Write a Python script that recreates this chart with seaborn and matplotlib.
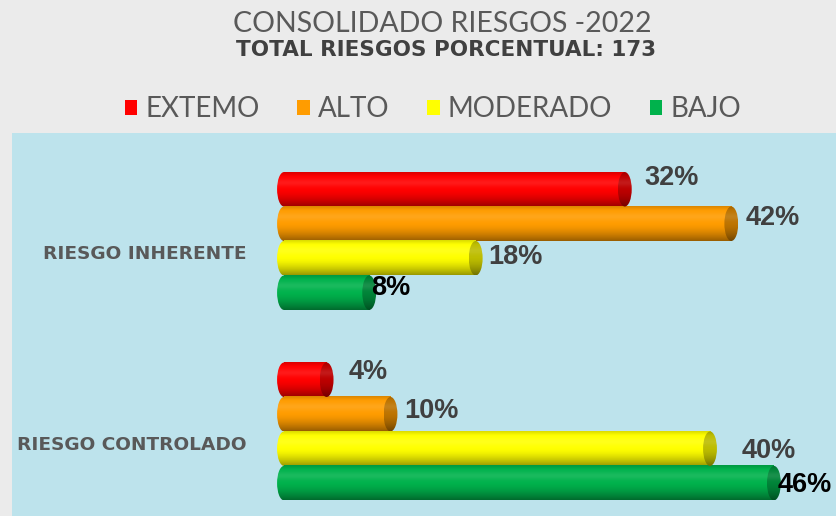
import numpy as np
import pandas as pd
import matplotlib
matplotlib.use("Agg")
import matplotlib.pyplot as plt
import seaborn as sns
from matplotlib.patches import Ellipse, Patch
from matplotlib.colors import to_rgb

# Risk levels per evaluation stage (percent of the 173 risks)
groups = ["RIESGO INHERENTE", "RIESGO CONTROLADO"]
levels = ["EXTEMO", "ALTO", "MODERADO", "BAJO"]
inherente = [32, 42, 18, 8]
controlado = [4, 10, 40, 46]
total_riesgos = 173

level_colors = ["#ff0000", "#ff9c00", "#ffff00", "#00b24c"]
label_colors = ["#404040", "#404040", "#404040", "#000000"]

# label nudges in pixels (right, down) from the end of each bar
label_dx = [[20, 14, 13, 2], [22, 14, 32, 4]]
label_dy = [[-11, -6, -1, -5], [-8, -3, 2, 2]]

df = pd.DataFrame({
    "grupo": [g for g in groups for _ in levels],
    "nivel": levels * len(groups),
    "valor": inherente + controlado,
})

W, H = 836, 516
fig = plt.figure(figsize=(W / 100, H / 100), dpi=100)
fig.patch.set_facecolor("#ebebeb")

ax = fig.add_axes([12 / W, 0, (W - 12) / W, (H - 133) / H])
ax.set_facecolor("#bde3ec")

sns.barplot(data=df, y="grupo", x="valor", hue="nivel", order=groups,
            hue_order=levels, palette=level_colors, orient="h", width=0.724,
            saturation=1, legend=False, ax=ax)


def cylinder_strip(color, dark=1.0, n=80):
    base = np.array(to_rgb(color)) * dark
    t = np.linspace(0, 1, n)
    f = np.where(t < 0.12, 0.86 + 0.14 * t / 0.12, 1.0)
    f = np.where(t > 0.5, 1.0 - 0.40 * ((t - 0.5) / 0.5) ** 1.5, f)
    hl = 0.10 * np.exp(-((t - 0.3) / 0.12) ** 2)
    rgb = base[None, :] * f[:, None]
    rgb = rgb + (1 - rgb) * hl[:, None]
    return np.clip(rgb, 0, 1)[:, None, :]


cap_w = 1.3
for li, (container, color) in enumerate(zip(ax.containers, level_colors)):
    body = cylinder_strip(color)
    end = cylinder_strip(color, dark=0.74)
    for gi, bar in enumerate(container):
        x, y = bar.get_x(), bar.get_y()
        w, h = bar.get_width(), bar.get_height()
        bar.set_facecolor("none")
        bar.set_edgecolor("none")
        ax.imshow(body, extent=(x, x + w, y + h, y), origin="upper",
                  aspect="auto", interpolation="bilinear", zorder=2)
        left = Ellipse((x, y + h / 2), cap_w, h, facecolor="none",
                       edgecolor="none")
        ax.add_patch(left)
        im = ax.imshow(body, extent=(x - cap_w / 2, x + 0.01, y + h, y),
                       origin="upper", aspect="auto",
                       interpolation="bilinear", zorder=1.9)
        im.set_clip_path(left)
        right = Ellipse((x + w, y + h / 2), cap_w, h, facecolor="none",
                        edgecolor="none")
        ax.add_patch(right)
        im = ax.imshow(end, extent=(x + w - cap_w / 2, x + w + cap_w / 2,
                                    y + h, y),
                       origin="upper", aspect="auto",
                       interpolation="bilinear", zorder=2.1)
        im.set_clip_path(right)
        ax.annotate(f"{w:.0f}%", xy=(x + w, y + h / 2),
                    xytext=(label_dx[gi][li] * 0.72, -label_dy[gi][li] * 0.72),
                    textcoords="offset points", ha="left", va="center",
                    fontsize=19.5, fontweight="bold", color=label_colors[li],
                    family="Liberation Sans", zorder=3)

for i, g in enumerate(groups):
    ax.text(-3.5, i + 0.07, g, ha="right", va="center", fontsize=13.3,
            fontweight="bold", color="#595959", family="DejaVu Sans")

ax.set_xlim((12 - 284) / 10.65, (W - 284) / 10.65)
ax.set_ylim(1.444, -0.567)
ax.set_xticks([])
ax.set_yticks([])
ax.set_xlabel("")
ax.set_ylabel("")
for s in ax.spines.values():
    s.set_visible(False)

fig.text(442 / W, 1 - 24 / H, "CONSOLIDADO RIESGOS -2022", ha="center",
         va="center", fontsize=20.5, color="#595959", family="Lato")
fig.text(446 / W, 1 - 50 / H, f"TOTAL RIESGOS PORCENTUAL: {total_riesgos}",
         ha="center", va="center", fontsize=15.5, fontweight="bold",
         color="#404040", family="DejaVu Sans")

handles = [Patch(facecolor=c, edgecolor="none") for c in level_colors]
fig.legend(handles, levels, loc="center", bbox_to_anchor=(433 / W, 1 - 109 / H),
           ncol=4, frameon=False, handlelength=0.45, handleheight=0.45,
           handletextpad=0.3, columnspacing=1.35, labelcolor="#595959",
           prop={"family": "Lato", "size": 20})

fig.savefig("out.png", dpi=100, facecolor=fig.get_facecolor())
